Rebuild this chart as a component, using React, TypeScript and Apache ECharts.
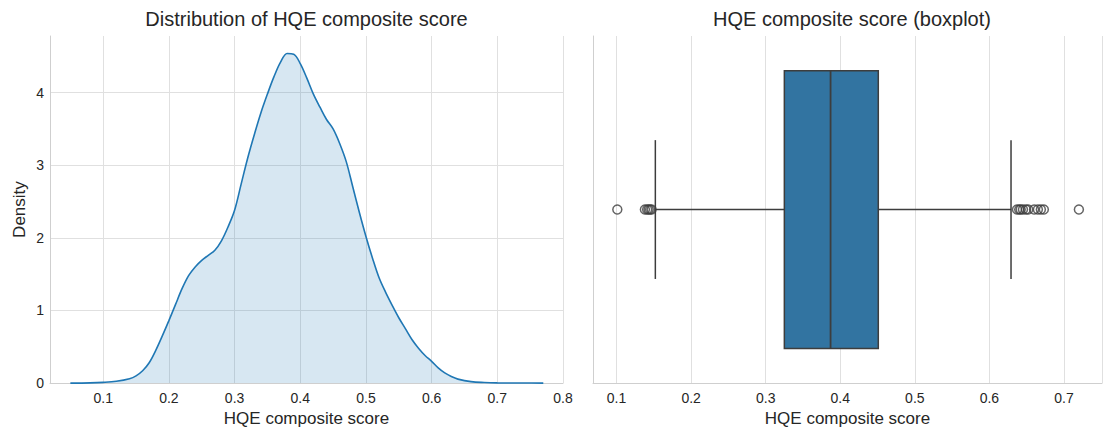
import React, { useEffect, useRef } from "react";
import * as echarts from "echarts";

// ---- Data ----
const leftTitle = "Distribution of HQE composite score";
const rightTitle = "HQE composite score (boxplot)";
const xName = "HQE composite score";
const yName = "Density";

// KDE curve (x = score, y = density)
const kdeX = [
  0.05, 0.08, 0.1, 0.12, 0.14,
  0.15, 0.16, 0.17, 0.18, 0.19, 0.2, 0.21, 0.22, 0.23, 0.24,
  0.25, 0.26, 0.27, 0.28, 0.29, 0.3, 0.31, 0.32, 0.33, 0.34,
  0.35, 0.36, 0.37, 0.38, 0.39, 0.4, 0.41, 0.42, 0.43, 0.44,
  0.45, 0.46, 0.47, 0.48, 0.49, 0.5, 0.51, 0.52, 0.53, 0.54,
  0.55, 0.56, 0.57, 0.58, 0.59, 0.6, 0.61, 0.62, 0.63, 0.64,
  0.66, 0.68, 0.7, 0.74, 0.77,
];
const kdeY = [
  0, 0.003, 0.01, 0.025, 0.06,
  0.1, 0.17, 0.28, 0.45, 0.65, 0.86, 1.08, 1.3, 1.48, 1.6,
  1.69, 1.76, 1.83, 1.96, 2.15, 2.38, 2.74, 3.1, 3.42, 3.72,
  3.98, 4.22, 4.42, 4.54, 4.53, 4.4, 4.2, 3.98, 3.8, 3.63,
  3.5, 3.3, 3.05, 2.7, 2.35, 2.02, 1.72, 1.45, 1.25, 1.07,
  0.9, 0.75, 0.6, 0.48, 0.38, 0.3, 0.21, 0.14, 0.09, 0.055,
  0.02, 0.008, 0.003, 0.001, 0,
];

// Boxplot: [lower whisker, Q1, median, Q3, upper whisker]
const boxStats = [0.152, 0.325, 0.387, 0.451, 0.629];
const outliers = [
  0.101, 0.138, 0.141, 0.143, 0.145, 0.147,
  0.637, 0.64, 0.642, 0.645, 0.649, 0.652, 0.66, 0.665, 0.669, 0.673,
  0.72,
];

// ---- Styles ----
const FONT = "'Liberation Sans', Arial, sans-serif";
const TXT = "#262626";
const GRIDC = "#e0e0e0";
const SPINE = "#cfcfcf";
const BLUE = "#1f77b4";
const BOX = "#3274a1";
const EDGE = "#3d3d3d";

const isTenth = (v: number) => Math.abs(v * 10 - Math.round(v * 10)) < 1e-6;

export default function App() {
  const ref = useRef<HTMLDivElement>(null);

  useEffect(() => {
    document.body.style.margin = "0";
    if (!ref.current) return;
    const chart = echarts.init(ref.current, undefined, { renderer: "svg" });

    const tickLabel = {
      color: TXT,
      fontSize: 14,
      fontFamily: FONT,
    };

    const option: any = {
      animation: false,
      backgroundColor: "#ffffff",
      textStyle: { fontFamily: FONT },
      grid: [
        { left: 50, right: 1105 - 563, top: 36, bottom: 432 - 387 },
        { left: 593, right: -6, top: 36, bottom: 432 - 387 },
      ],
      xAxis: [
        {
          type: "value",
          gridIndex: 0,
          min: 0.019,
          max: 0.8,
          splitNumber: 8,
          minInterval: 0.1,
          maxInterval: 0.1,
          name: xName,
          nameLocation: "middle",
          nameGap: 25,
          nameTextStyle: { color: TXT, fontSize: 17, fontFamily: FONT },
          axisLine: { show: true, onZero: false, lineStyle: { color: SPINE, width: 1 } },
          axisTick: { show: false },
          axisLabel: {
            ...tickLabel,
            margin: 8,
            formatter: (v: number) => (isTenth(v) ? v.toFixed(1) : ""),
          },
          splitLine: { show: true, showMinLine: false, lineStyle: { color: GRIDC, width: 1 } },
        },
        {
          type: "value",
          gridIndex: 1,
          min: 0.0684,
          max: 0.751,
          splitNumber: 7,
          minInterval: 0.1,
          maxInterval: 0.1,
          name: xName,
          nameLocation: "middle",
          nameGap: 25,
          nameTextStyle: { color: TXT, fontSize: 17, fontFamily: FONT },
          axisLine: { show: true, onZero: false, lineStyle: { color: SPINE, width: 1 } },
          axisTick: { show: false },
          axisLabel: {
            ...tickLabel,
            margin: 8,
            formatter: (v: number) => (isTenth(v) ? v.toFixed(1) : ""),
          },
          splitLine: { show: true, showMinLine: false, lineStyle: { color: GRIDC, width: 1 } },
        },
      ],
      yAxis: [
        {
          type: "value",
          gridIndex: 0,
          min: 0,
          max: 4.78,
          interval: 1,
          name: yName,
          nameLocation: "middle",
          nameGap: 22,
          nameRotate: 90,
          nameTextStyle: { color: TXT, fontSize: 17, fontFamily: FONT },
          axisLine: { show: true, onZero: false, lineStyle: { color: SPINE, width: 1 } },
          axisTick: { show: false },
          axisLabel: {
            ...tickLabel,
            margin: 6,
            formatter: (v: number) => (Math.abs(v - Math.round(v)) < 1e-6 ? String(Math.round(v)) : ""),
          },
          splitLine: {
            show: true,
            showMaxLine: false,
            lineStyle: { color: GRIDC, width: 1 },
          },
        },
        {
          type: "value",
          gridIndex: 1,
          min: -0.5,
          max: 0.5,
          axisLine: { show: true, onZero: false, lineStyle: { color: SPINE, width: 1 } },
          axisTick: { show: false },
          axisLabel: { show: false },
          splitLine: { show: false },
        },
      ],
      graphic: [
        {
          type: "text",
          x: 306.5,
          y: 19,
          style: {
            text: leftTitle,
            font: `20px ${FONT}`,
            fill: TXT,
            textAlign: "center",
            textVerticalAlign: "middle",
            align: "center",
            verticalAlign: "middle",
          },
        },
        {
          type: "text",
          x: 852,
          y: 19,
          style: {
            text: rightTitle,
            font: `20px ${FONT}`,
            fill: TXT,
            textAlign: "center",
            textVerticalAlign: "middle",
            align: "center",
            verticalAlign: "middle",
          },
        },
      ],
      series: [
        {
          type: "line",
          xAxisIndex: 0,
          yAxisIndex: 0,
          data: kdeX.map((x, i) => [x, kdeY[i]]),
          smooth: 0.35,
          symbol: "none",
          lineStyle: { color: BLUE, width: 1.6 },
          areaStyle: { color: "rgba(31,119,180,0.25)" },
          z: 3,
        },
        {
          type: "custom",
          xAxisIndex: 1,
          yAxisIndex: 1,
          data: [[...boxStats, 0]],
          encode: { x: [0, 1, 2, 3, 4], y: 5 },
          renderItem: (params: any, api: any) => {
            const lo = api.value(0);
            const q1 = api.value(1);
            const med = api.value(2);
            const q3 = api.value(3);
            const hi = api.value(4);
            const c = (x: number, y: number) => api.coord([x, y]);
            const [xLo, yMid] = c(lo, 0);
            const [xQ1, yTop] = c(q1, 0.4);
            const [xQ3, yBot] = c(q3, -0.4);
            const [xMed] = c(med, 0);
            const [xHi] = c(hi, 0);
            const [, capTop] = c(lo, 0.2);
            const [, capBot] = c(lo, -0.2);
            const ls = { stroke: EDGE, lineWidth: 1.5 };
            return {
              type: "group",
              children: [
                { type: "line", shape: { x1: xLo, y1: yMid, x2: xQ1, y2: yMid }, style: ls },
                { type: "line", shape: { x1: xQ3, y1: yMid, x2: xHi, y2: yMid }, style: ls },
                { type: "line", shape: { x1: xLo, y1: capTop, x2: xLo, y2: capBot }, style: ls },
                { type: "line", shape: { x1: xHi, y1: capTop, x2: xHi, y2: capBot }, style: ls },
                {
                  type: "rect",
                  shape: { x: xQ1, y: yTop, width: xQ3 - xQ1, height: yBot - yTop },
                  style: { fill: BOX, stroke: EDGE, lineWidth: 1.5 },
                },
                { type: "line", shape: { x1: xMed, y1: yTop, x2: xMed, y2: yBot }, style: { stroke: EDGE, lineWidth: 1.8 } },
              ],
            };
          },
          z: 3,
        },
        {
          type: "scatter",
          xAxisIndex: 1,
          yAxisIndex: 1,
          data: outliers.map((v) => [v, 0]),
          symbol: "circle",
          symbolSize: 9,
          itemStyle: { color: "rgba(255,255,255,0)", borderColor: EDGE, borderWidth: 1.5 },
          z: 4,
        },
      ],
    };

    chart.setOption(option);
    return () => {
      chart.dispose();
    };
  }, []);

  return <div ref={ref} style={{ width: 1105, height: 432 }} />;
}
